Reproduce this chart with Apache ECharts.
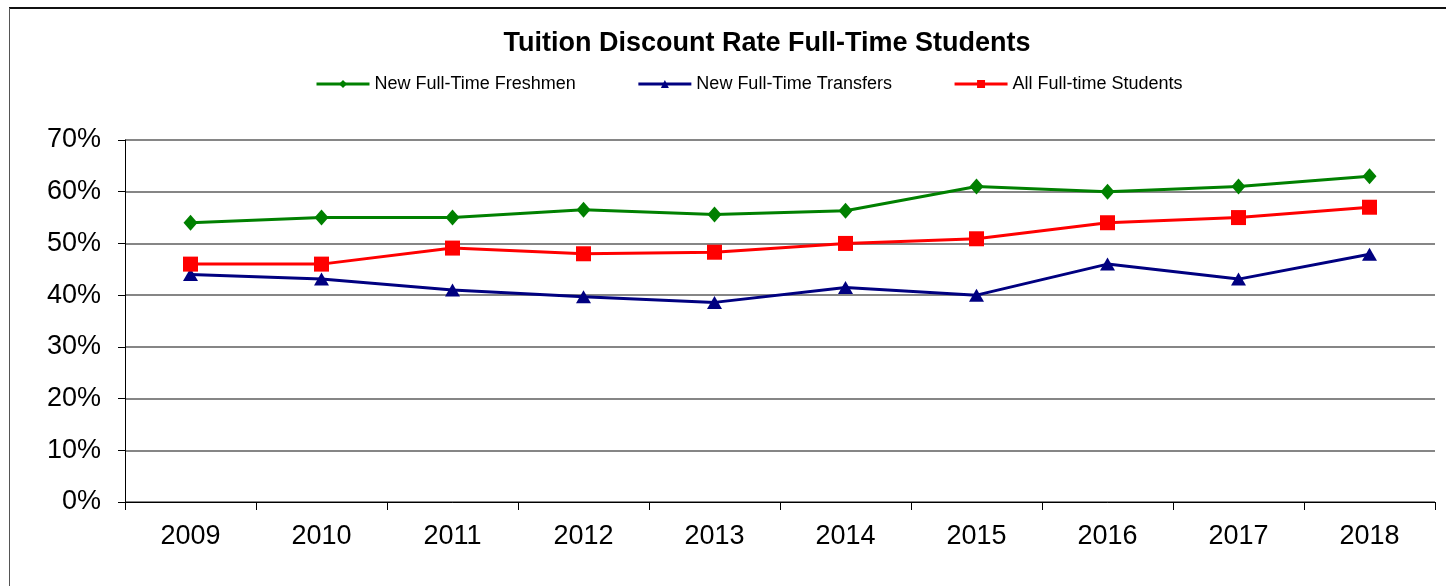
<!DOCTYPE html>
<html>
<head>
<meta charset="utf-8">
<title>Tuition Discount Rate Full-Time Students</title>
<script src="https://cdn.jsdelivr.net/npm/echarts@6/dist/echarts.min.js"></script>
<style>
  html, body { margin: 0; padding: 0; background: #fff; }
  #discountChart { width: 1446px; height: 586px; }
</style>
</head>
<body>
<div id="discountChart"></div>
<script>
// data (percent)
const years = ['2009', '2010', '2011', '2012', '2013', '2014', '2015', '2016', '2017', '2018'];
const freshmenRate = [54, 55, 55, 56.5, 55.6, 56.3, 61, 60, 61, 63];
const transferRate = [44, 43.1, 41, 39.7, 38.6, 41.5, 40, 46, 43.1, 47.9];
const allStudentsRate = [46, 46, 49.1, 48, 48.3, 50, 50.9, 54, 55, 57];
const yTicks = { min: 0, max: 70, step: 10 };

const fontFamily = '"Liberation Sans", Arial, sans-serif';

const chart = echarts.init(document.getElementById('discountChart'));

const option = {
  animation: false,
  textStyle: { fontFamily: fontFamily },
  title: {
    text: 'Tuition Discount Rate Full-Time Students',
    left: 762,
    top: 25,
    textAlign: 'center',
    textStyle: {
      fontFamily: fontFamily,
      fontSize: 27,
      fontWeight: 'bold',
      color: '#000'
    }
  },
  legend: {
    left: 310,
    top: 70,
    itemWidth: 53,
    itemHeight: 10,
    itemGap: 61,
    lineStyle: { width: 3 },
    textStyle: { fontFamily: fontFamily, fontSize: 18, color: '#000' },
    data: ['New Full-Time Freshmen', 'New Full-Time Transfers', 'All Full-time Students']
  },
  grid: {
    left: 125,
    right: 11,
    top: 140,
    bottom: 84
  },
  xAxis: {
    type: 'category',
    data: years,
    boundaryGap: true,
    axisLine: { lineStyle: { color: '#000', width: 1 } },
    axisTick: { show: true, length: 8, lineStyle: { color: '#000' } },
    axisLabel: { fontSize: 27, color: '#000', margin: 21, fontFamily: fontFamily }
  },
  yAxis: {
    type: 'value',
    min: yTicks.min,
    max: yTicks.max,
    interval: yTicks.step,
    axisLine: { show: true, lineStyle: { color: '#000', width: 1 } },
    axisTick: { show: true, length: 7, lineStyle: { color: '#000' } },
    axisLabel: {
      formatter: '{value}%',
      fontSize: 27,
      color: '#000',
      margin: 24,
      fontFamily: fontFamily
    },
    splitLine: {
      show: true,
      lineStyle: { color: '#5e5e5e', width: 1.5 }
    }
  },
  graphic: [
    { type: 'line', shape: { x1: 9, y1: 8, x2: 1446, y2: 8 }, style: { stroke: '#111', lineWidth: 2 } },
    { type: 'line', shape: { x1: 9.5, y1: 8, x2: 9.5, y2: 586 }, style: { stroke: '#555', lineWidth: 1 } }
  ],
  series: [
    {
      name: 'New Full-Time Freshmen',
      type: 'line',
      data: freshmenRate,
      symbol: 'diamond',
      symbolSize: [14, 16],
      lineStyle: { color: '#008000', width: 3 },
      itemStyle: { color: '#008000' }
    },
    {
      name: 'New Full-Time Transfers',
      type: 'line',
      data: transferRate,
      symbol: 'triangle',
      symbolSize: [15, 13],
      lineStyle: { color: '#000080', width: 3 },
      itemStyle: { color: '#000080' }
    },
    {
      name: 'All Full-time Students',
      type: 'line',
      data: allStudentsRate,
      symbol: 'rect',
      symbolSize: 15,
      lineStyle: { color: '#ff0000', width: 3 },
      itemStyle: { color: '#ff0000' }
    }
  ]
};

chart.setOption(option);
</script>
</body>
</html>
